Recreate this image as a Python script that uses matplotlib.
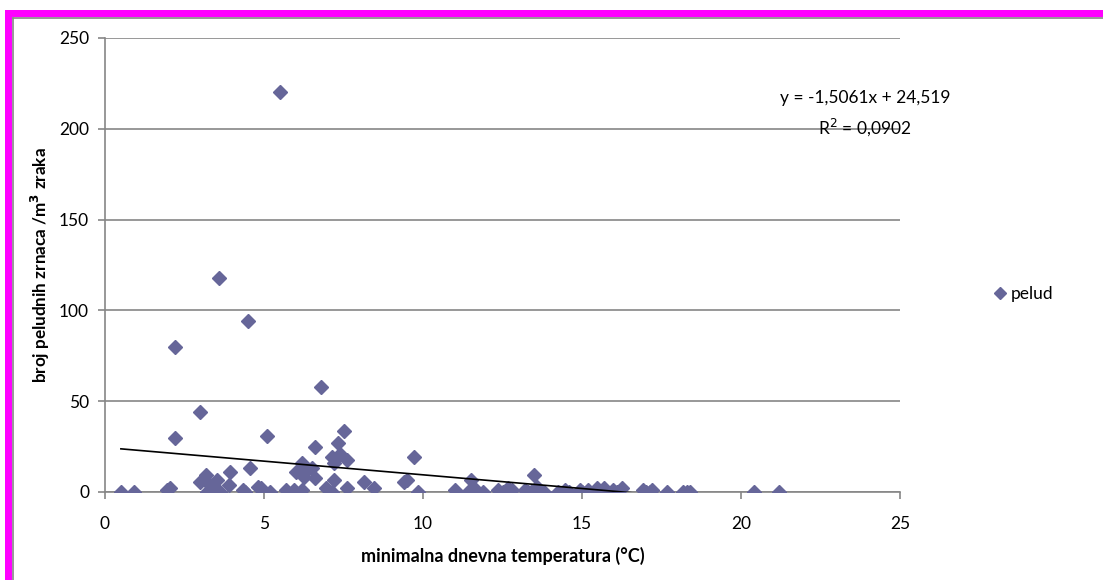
import matplotlib
matplotlib.use('Agg')
import matplotlib.pyplot as plt
from matplotlib.patches import Rectangle
from matplotlib.lines import Line2D

# minimalna dnevna temperatura (°C)
temperatura = [0.5, 0.9, 1.95, 2.05, 2.2, 2.2, 3.0, 3.0, 3.15, 3.19, 3.2, 3.37, 3.52,
               3.6, 3.63, 3.9, 3.94, 4.35, 4.4, 4.5, 4.57, 4.8, 4.9, 5.1, 5.2, 5.5,
               5.7, 5.95, 6.0, 6.2, 6.2, 6.25, 6.3, 6.5, 6.6, 6.6, 6.8, 6.95, 7.15,
               7.15, 7.2, 7.2, 7.33, 7.39, 7.52, 7.6, 7.62, 8.15, 8.46, 9.4, 9.5,
               9.73, 9.83, 11.0, 11.4, 11.5, 11.6, 11.9, 12.36, 12.5, 12.67, 12.8,
               13.2, 13.3, 13.4, 13.5, 13.6, 13.6, 13.8, 14.25, 14.46, 14.6, 14.93,
               15.0, 15.2, 15.46, 15.6, 15.7, 15.98, 16.1, 16.25, 16.93, 17.0, 17.14,
               17.2, 17.67, 18.19, 18.3, 18.4, 20.4, 21.19]
# broj peludnih zrnaca / m3 zraka
pelud = [0, 0, 1, 2, 80, 30, 44, 5.7, 6.6, 9.4, 0, 3, 6.6,
         118, 0, 3.8, 11, 1, 0, 94, 13, 3, 2, 31, 0, 220,
         1, 1, 11, 15.8, 1, 8.4, 11, 13, 7.5, 25, 58, 2, 19.5,
         0, 16, 6.6, 27, 21, 33.8, 17.6, 2, 5.7, 2, 5.7, 6.6,
         19.5, 0, 1, 0, 6.6, 2, 0, 1, 0, 2, 1,
         1, 0, 0, 9.4, 3, 1, 0, 0, 1, 0, 1,
         0, 1, 2, 0, 2, 1, 0, 2, 1, 0, 0,
         1, 0, 0, 0, 0, 0, 0]

# linearni trend
nagib = -1.5061
odsjecak = 24.519
r2 = 0.0902

boja = '#666699'
siva = '#868686'
font = 'Lato'

fig = plt.figure(figsize=(11.03, 5.80), dpi=100)
W, H = 1103, 580

# okvir
fig.patches.append(Rectangle((5 / W, 1 - 17 / H), 1, 7 / H, transform=fig.transFigure,
                             facecolor='#ff00ff', edgecolor='none'))
fig.patches.append(Rectangle((5 / W, 0), 7 / W, 1 - 10 / H, transform=fig.transFigure,
                             facecolor='#ff00ff', edgecolor='none'))
fig.lines.append(Line2D([12.5 / W, 1], [1 - 17.5 / H, 1 - 17.5 / H], transform=fig.transFigure,
                        color=siva, lw=1.2))
fig.lines.append(Line2D([12.5 / W, 12.5 / W], [0, 1 - 17.5 / H], transform=fig.transFigure,
                        color=siva, lw=1.2))

ax = fig.add_axes([105 / W, 1 - 492 / H, (900 - 105) / W, (492 - 38) / H])

ax.plot(temperatura, pelud, linestyle='none', marker='D', markersize=7.6,
        color=boja, markeredgecolor=boja, zorder=3, label='pelud')

x0, x1 = min(temperatura), max(temperatura)
ax.plot([x0, x1], [nagib * x0 + odsjecak, nagib * x1 + odsjecak], color='black', lw=1.2, zorder=4)

ax.set_xlim(0, 25)
ax.set_ylim(0, 250)
ax.set_xticks([0, 5, 10, 15, 20, 25])
ax.set_yticks([0, 50, 100, 150, 200, 250])
ax.yaxis.grid(True, color=siva, lw=1.2)
ax.set_axisbelow(True)
for s in ['top', 'right']:
    ax.spines[s].set_visible(False)
for s in ['left', 'bottom']:
    ax.spines[s].set_color(siva)
    ax.spines[s].set_linewidth(1.2)
ax.tick_params(colors=siva, length=5, width=1.2, labelcolor='black', labelsize=12.5)
ax.tick_params(axis='x', pad=12)
ax.tick_params(axis='y', pad=6.5)
for lbl in ax.get_xticklabels() + ax.get_yticklabels():
    lbl.set_fontfamily(font)

ax.set_xlabel('minimalna dnevna temperatura (°C)', fontfamily=font, fontweight='bold',
              fontsize=13, labelpad=11)
ax.set_ylabel('broj peludnih zrnaca /m$^{\\mathbf{3}}$ zraka', fontfamily=font, fontweight='bold',
              fontsize=12.3, labelpad=5)

fig.text(865 / W, 1 - 98 / H, 'y = -1,5061x + 24,519', ha='center', va='center',
         fontfamily=font, fontsize=12.5)
fig.text(865 / W, 1 - 127 / H, 'R$^2$ = 0,0902', ha='center', va='center',
         fontfamily=font, fontsize=12.5)

ax.legend(loc='center left', bbox_to_anchor=(995 / W, 1 - 294 / H), bbox_transform=fig.transFigure,
          frameon=False, handlelength=0.6, handletextpad=0.3, markerscale=0.8,
          prop={'family': font, 'size': 12.5}, borderaxespad=0, borderpad=0)

fig.savefig('out.png', dpi=100, facecolor='white')
